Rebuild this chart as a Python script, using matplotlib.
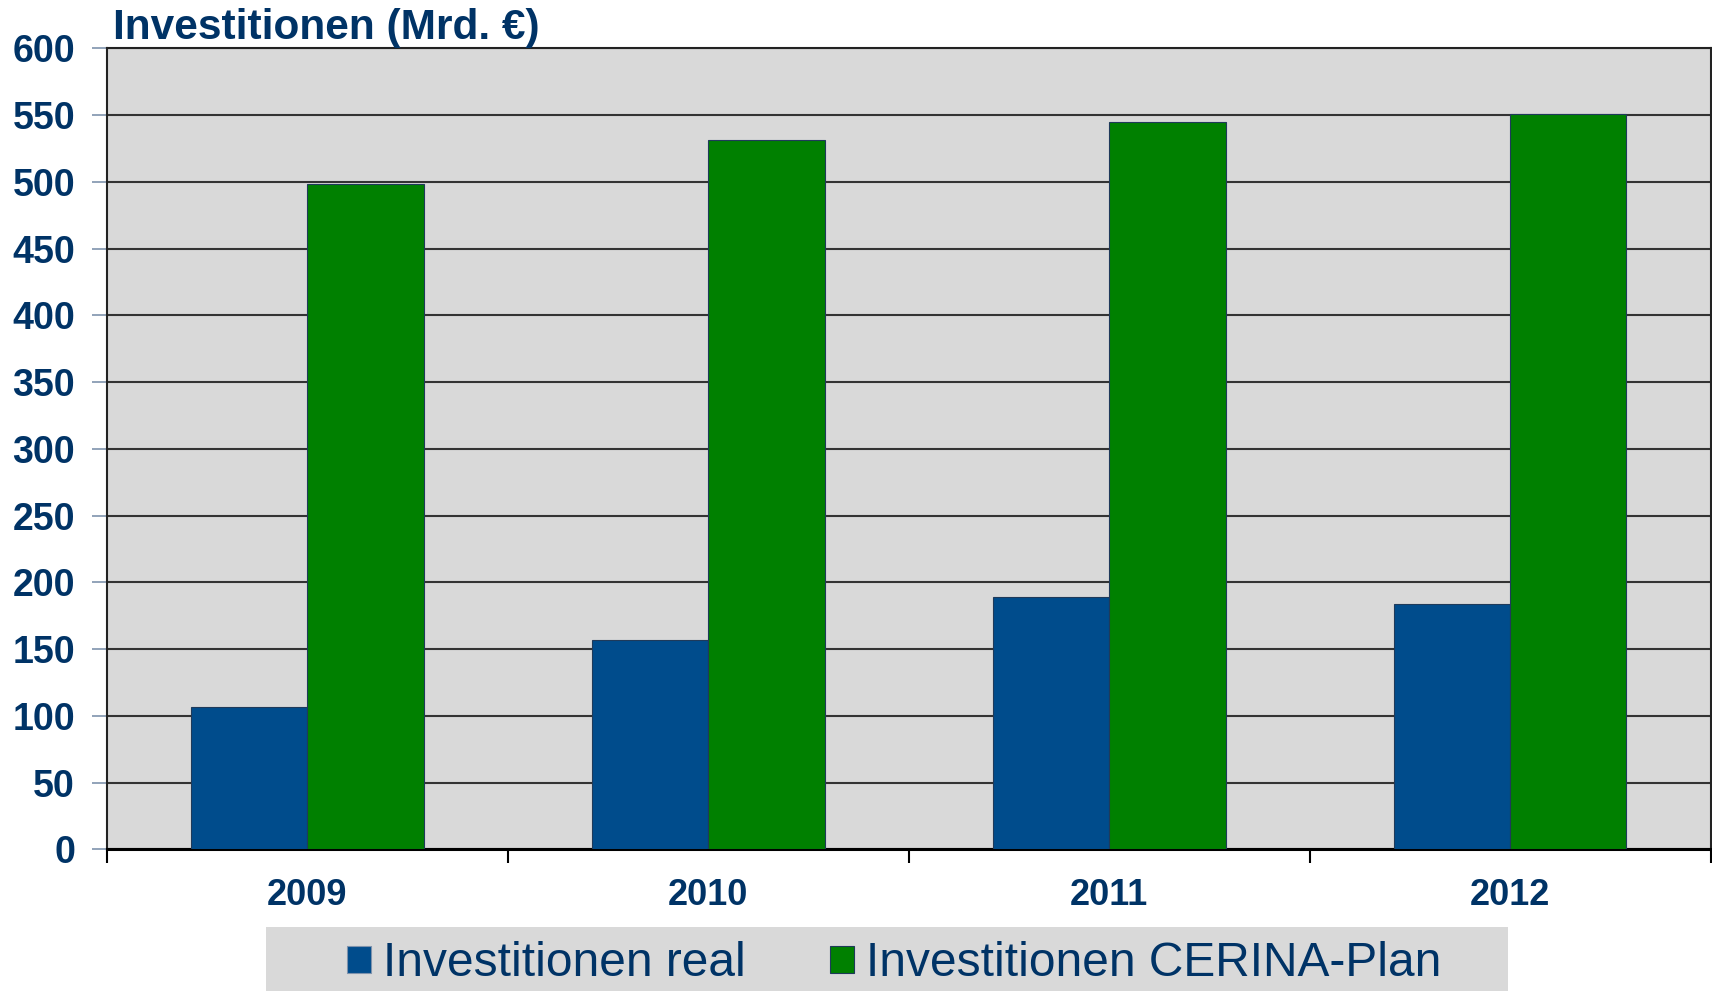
"""Investitionen real vs. CERINA-Plan, 2009-2012, grouped bars."""
import numpy as np
import matplotlib
matplotlib.use("Agg")
import matplotlib.pyplot as plt
from matplotlib.patches import Rectangle, Patch

years = ["2009", "2010", "2011", "2012"]
real = [106.5, 157, 189, 183.5]
plan = [498.5, 531.5, 545, 551]
series_names = ["Investitionen real", "Investitionen CERINA-Plan"]
yticks = list(range(0, 601, 50))

BLUE = "#004C8C"
GREEN = "#008000"
NAVY = "#003366"
BG = "#D9D9D9"

plt.rcParams["font.family"] = ["Liberation Sans", "DejaVu Sans"]

fig = plt.figure(figsize=(17.12, 9.91), dpi=100)
ax = fig.add_axes([0.0625, 0.143, 0.9367, 0.8083])
ax.set_facecolor(BG)

x = np.arange(len(years))
w = 0.29
ax.bar(x - w / 2, real, w, color=BLUE, edgecolor="#1F3A5A", linewidth=0.8, zorder=3)
ax.bar(x + w / 2, plan, w, color=GREEN, edgecolor="#1F3A5A", linewidth=0.8, zorder=3)

ax.set_xlim(-0.5, len(years) - 0.5)
ax.set_ylim(0, 600)
ax.set_yticks(yticks)
ax.set_yticklabels([str(v) for v in yticks], fontsize=27, fontweight="bold", color=NAVY)
ax.yaxis.grid(True, color="#333333", linewidth=1.5, zorder=1)
ax.set_axisbelow(True)
ax.tick_params(axis="y", length=11, width=1.2, color="#7F93AD", pad=12)

ax.set_xticks(x)
ax.set_xticklabels(years, fontsize=26, fontweight="bold", color=NAVY)
ax.set_xticks(np.arange(-0.5, len(years)), minor=True)
ax.tick_params(axis="x", which="major", length=0, pad=21)
ax.tick_params(axis="x", which="minor", length=10, width=1.5, color="black")

for side in ["top", "right", "left"]:
    ax.spines[side].set_color("#222222")
    ax.spines[side].set_linewidth(1.5)
ax.spines["bottom"].set_color("black")
ax.spines["bottom"].set_linewidth(2.2)

fig.text(113 / 1712, 1 - 38.5 / 991, "Investitionen (Mrd. \u20ac)", fontsize=30.5,
         fontweight="bold", color=NAVY, va="baseline", ha="left")

# legend panel
fig.patches.append(Rectangle((266 / 1712, 0), (1508 - 266) / 1712, 64 / 991,
                             transform=fig.transFigure, facecolor=BG, edgecolor="none"))
handles = [Patch(facecolor=BLUE, edgecolor="#7F93AD", linewidth=0.8),
           Patch(facecolor=GREEN, edgecolor="#1F3A5A", linewidth=0.8)]
leg = fig.legend(handles, series_names, loc="center", bbox_to_anchor=(894 / 1712, 27 / 991),
                 ncol=2, frameon=False, fontsize=34.5, handlelength=0.5, handleheight=0.5,
                 handletextpad=0.25, columnspacing=1.75, borderpad=0)
for t in leg.get_texts():
    t.set_color(NAVY)

fig.savefig("out.png", dpi=100)
